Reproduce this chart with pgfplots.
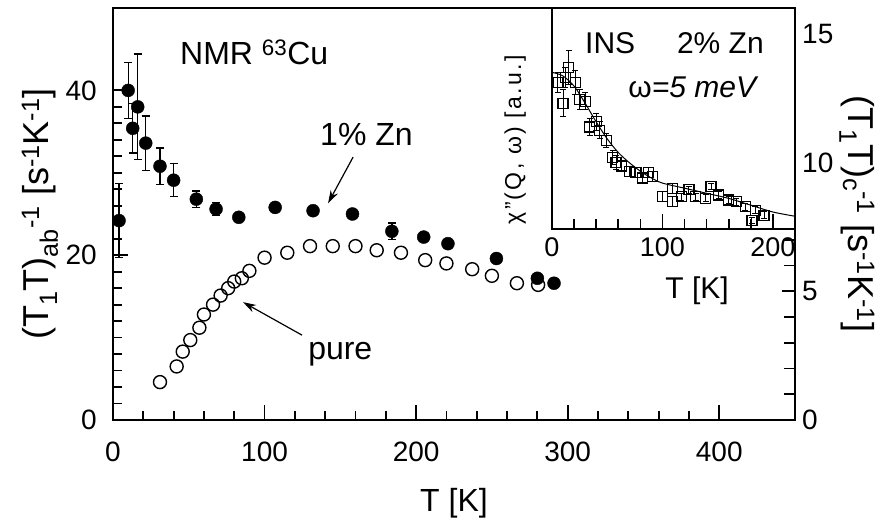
\documentclass[border=0pt]{standalone}
\usepackage{fontspec}
\setmainfont{Liberation Sans}
\usepackage{pgfplots}
\pgfplotsset{compat=1.18}
\usetikzlibrary{arrows.meta}

\pgfplotstableread{
T v e
4 24.2 4.5
10 40.0 3.4
13 35.4 3.0
16.3 38.0 6.4
21.6 33.6 3.3
31 30.8 2.2
40 29.1 2.0
55 26.8 1.0
68 25.6 0.8
83 24.6 0.5
107 25.8 0.5
132 25.4 0.5
158 25.0 0.5
184 22.9 1.0
205 22.2 0.5
221 21.4 0.5
253 19.6 0.5
280 17.2 0.0
291 16.6 0.0
}\zincdata

\pgfplotstableread{
T v
31 4.6
42 6.5
46 8.3
51 9.7
57 11.2
60 12.8
66 14.0
71 15.1
76 16.0
80 16.8
85 17.2
90 18.1
100 19.7
115 20.3
130 21.1
145 21.1
160 21.1
174 20.6
190 20.3
206 19.4
220 19.0
237 18.3
250 17.5
266.5 16.6
280.5 16.4
}\puredata

\pgfplotstableread{
T v e
5.4 8.6 0.6
10 7.4 0.8
12 8.9 0.6
15 9.5 1.0
21 8.6 0.7
25 7.6 0.6
30 7.5 0.5
34 6.0 0.5
40 6.3 0.5
43 5.8 0.5
49 5.2 0.4
55 4.2 0.4
58 3.9 0.4
63 3.7 0.3
70 3.4 0.3
76 3.3 0.3
82 3.0 0.3
87 3.3 0.3
91 3.1 0.3
100 1.9 0.3
109 2.4 0.3
109 1.6 0.3
117 1.9 0.2
124 2.3 0.2
130 1.9 0.2
139 1.8 0.2
144 2.5 0.2
151 2.0 0.2
160 1.7 0.2
167 1.6 0.2
175 1.3 0.2
181 0.5 0.2
184 1.1 0.2
192 0.8 0.2
}\insdata

\pgfplotstableread{
T v
1 9.2
10 9.0
20 8.4
30 7.4
40 6.3
50 5.3
60 4.5
70 3.9
80 3.4
90 3.0
100 2.7
120 2.4
140 2.1
160 1.8
180 1.4
200 1.0
220 0.75
}\insfit

\begin{document}
\begin{tikzpicture}[x=1pt,y=1pt]
% main axis
\begin{axis}[
  at={(113pt,107pt)}, anchor=south west,
  width=682pt, height=412pt, scale only axis,
  xmin=0, xmax=450, ymin=0, ymax=50,
  xtick={0,100,200,300,400}, minor x tick num=4,
  ytick={0,20,40}, minor y tick num=9,
  xtick pos=left, ytick pos=left,
  tick align=inside,
  major tick length=15pt, minor tick length=9pt,
  every tick/.style={black, line width=1.8pt},
  axis line style={line width=2.6pt},
  /pgf/number format/assume math mode=true,
  tick label style={font=\fontsize{28}{30}\selectfont},
  xticklabel style={inner sep=0pt, yshift=-22pt},
  yticklabel style={inner sep=0pt, xshift=-16pt},
  every axis x label/.style={at={(axis description cs:0.5,-0.2015)}, anchor=center},
  every axis y label/.style={at={(axis description cs:-0.107,0.5)}, rotate=90, anchor=center},
  xlabel={T [K]},
  xlabel style={font=\fontsize{32}{34}\selectfont},
  ylabel={(T\textsubscript{1}T)\textsubscript{ab}\textsuperscript{-1} [s\textsuperscript{-1}K\textsuperscript{-1}]},
  ylabel style={font=\fontsize{36}{38}\selectfont},
  clip=false,
]
\addplot[only marks, mark=o, black, mark size=6.5pt, mark options={line width=1.4pt}]
  table[x=T, y=v] {\puredata};
\addplot[only marks, mark=*, black, mark size=6.5pt,
  error bars/.cd, y dir=both, y explicit,
  error bar style={line width=1.3pt, black},
  error mark options={rotate=90, mark size=4pt, line width=1.3pt, black}]
  table[x=T, y=v, y error=e] {\zincdata};
\node[anchor=base west, inner sep=0pt, font=\fontsize{32}{34}\selectfont] at (axis cs:44.2,43.1) {NMR \textsuperscript{63}Cu};
\node[anchor=base west, inner sep=0pt, font=\fontsize{32}{34}\selectfont] at (axis cs:136.6,33.3) {1\% Zn};
\node[anchor=base west, inner sep=0pt, font=\fontsize{32}{34}\selectfont] at (axis cs:128.7,7.3) {pure};
\draw[line width=1.2pt, -{Stealth[length=13pt,width=8pt]}] (axis cs:158.4,31.9) -- (axis cs:141.9,26.3);
\draw[line width=1.2pt, -{Stealth[length=13pt,width=8pt]}] (axis cs:124.7,10.3) -- (axis cs:85.8,14.3);
\end{axis}
% right axis
\begin{axis}[
  at={(113pt,107pt)}, anchor=south west,
  width=682pt, height=412pt, scale only axis,
  xmin=0, xmax=450, ymin=0, ymax=16,
  axis x line=none, axis y line*=right,
  xtick=\empty,
  ytick={0,5,10,15}, minor y tick num=4,
  ytick pos=right, yticklabel pos=right,
  tick align=inside,
  major tick length=13pt, minor tick length=11pt,
  every tick/.style={black, line width=1.8pt},
  axis line style={line width=2.6pt},
  /pgf/number format/assume math mode=true,
  tick label style={font=\fontsize{28}{30}\selectfont},
  yticklabel style={inner sep=0pt, anchor=west, xshift=7pt},
  every axis y label/.style={at={(axis description cs:1.0909,0.5)}, rotate=-90, anchor=center},
  ylabel={(T\textsubscript{1}T)\textsubscript{c}\textsuperscript{-1} [s\textsuperscript{-1}K\textsuperscript{-1}]},
  ylabel style={font=\fontsize{36}{38}\selectfont},
]
\end{axis}
% inset
\begin{axis}[
  at={(552pt,298pt)}, anchor=south west,
  width=243pt, height=221pt, scale only axis,
  xmin=0, xmax=220, ymin=0, ymax=13,
  axis background/.style={fill=white},
  xtick={0,100,200}, minor x tick num=4,
  ytick=\empty, minor ytick={0,1,...,13},
  xtick pos=left, ytick pos=left,
  tick align=inside,
  major tick length=15pt, minor tick length=10pt,
  every tick/.style={black, line width=1.6pt},
  axis line style={line width=2.4pt},
  /pgf/number format/assume math mode=true,
  tick label style={font=\fontsize{27}{29}\selectfont},
  xticklabel style={inner sep=0pt, yshift=-8pt},
  every axis x label/.style={at={(axis description cs:0.597,-0.28)}, anchor=center},
  every axis y label/.style={at={(axis description cs:-0.152,0.403)}, rotate=90, anchor=center},
  xlabel={T [K]},
  xlabel style={font=\fontsize{30}{32}\selectfont},
  ylabel={χ''(Q, ω) [a.u.]},
  ylabel style={font=\fontsize{23}{25}\selectfont\addfontfeatures{LetterSpace=10}},
  clip=false,
]
\addplot[black, line width=1pt, smooth] table[x=T, y=v] {\insfit};
\addplot[only marks, mark=square, black, mark size=5pt, mark options={line width=1.2pt},
  error bars/.cd, y dir=both, y explicit,
  error bar style={line width=1pt, black},
  error mark options={rotate=90, mark size=3pt, line width=1pt, black}]
  table[x=T, y=v, y error=e] {\insdata};
\node[anchor=base west, inner sep=0pt, font=\fontsize{30}{32}\selectfont] at (axis cs:29.9,10.35) {INS};
\node[anchor=base west, inner sep=0pt, font=\fontsize{30}{32}\selectfont] at (axis cs:113,10.35) {2\% Zn};
\node[anchor=base west, inner sep=0pt, font=\fontsize{30}{32}\selectfont] at (axis cs:69,7.76) {ω\textit{=5 meV}};
\end{axis}
\pgfresetboundingbox
\useasboundingbox (0,0) rectangle (888,527);
\end{tikzpicture}
\end{document}
